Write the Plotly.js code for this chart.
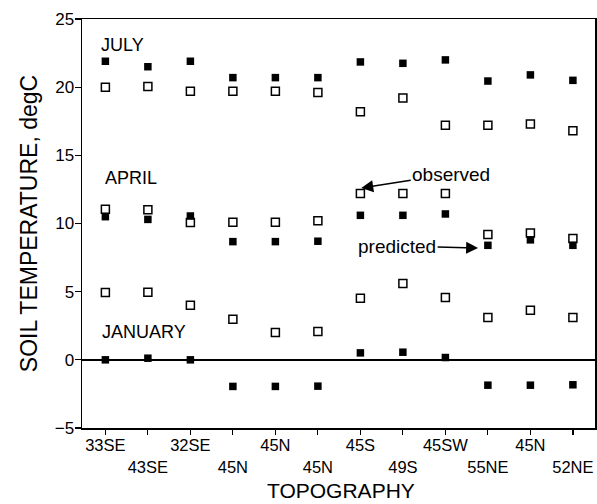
<!DOCTYPE html>
<html>
<head>
<meta charset="utf-8">
<script src="https://cdn.plot.ly/plotly-3.0.1.min.js"></script>
<style>html,body{margin:0;padding:0;background:#fff;}#chart{width:597px;height:504px;}</style>
</head>
<body>
<div id="chart"></div>
<script>
const categories = ["33SE","43SE","32SE","45N","45N","45N","45S","49S","45SW","55NE","45N","52NE"];
const julyPredicted  = [21.9, 21.5, 21.9, 20.7, 20.7, 20.7, 21.85, 21.75, 22.0, 20.45, 20.9, 20.5];
const julyObserved   = [20.0, 20.05, 19.7, 19.7, 19.7, 19.6, 18.2, 19.2, 17.2, 17.2, 17.3, 16.8];
const aprilPredicted = [10.5, 10.3, 10.55, 8.67, 8.67, 8.7, 10.6, 10.6, 10.7, 8.4, 8.8, 8.4];
const aprilObserved  = [11.05, 11.0, 10.07, 10.1, 10.1, 10.2, 12.2, 12.2, 12.2, 9.2, 9.3, 8.9];
const janPredicted   = [0.0, 0.12, 0.0, -1.95, -1.95, -1.93, 0.51, 0.56, 0.17, -1.86, -1.86, -1.83];
const janObserved    = [4.93, 4.96, 4.0, 2.98, 2.0, 2.07, 4.52, 5.6, 4.57, 3.1, 3.64, 3.1];
const yTicks = [-5, 0, 5, 10, 15, 20, 25];
const xTitle = "TOPOGRAPHY";
const yTitle = "SOIL TEMPERATURE, degC";

const xIdx = categories.map((_, i) => i);
const tickText = categories.map((c, i) => i % 2 === 0 ? c : "\u00a0<br>" + c);

const FONT = "Liberation Sans, Arial, sans-serif";
const filled = {symbol: "square", size: 7.5, color: "#000"};
const open = {symbol: "square-open", size: 8, color: "#000", line: {width: 1.5, color: "#000"}};

function tr(y, m) { return {x: xIdx, y: y, type: "scatter", mode: "markers", marker: m, hoverinfo: "skip", showlegend: false}; }

const data = [
  tr(julyPredicted, filled), tr(julyObserved, open),
  tr(aprilPredicted, filled), tr(aprilObserved, open),
  tr(janPredicted, filled), tr(janObserved, open)
];

const layout = {
  width: 597, height: 504,
  margin: {l: 82, r: 2, t: 19, b: 76},
  paper_bgcolor: "#fff", plot_bgcolor: "#fff",
  font: {family: FONT, color: "#000", size: 18},
  showlegend: false,
  xaxis: {
    range: [-0.55, 11.52], tickmode: "array", tickvals: xIdx, ticktext: tickText, tickangle: 0,
    ticks: "outside", ticklen: 5, tickwidth: 1.2, tickcolor: "#000", ticklabelstandoff: -3,
    showline: true, linecolor: "#000", linewidth: 1.5, mirror: true,
    showgrid: false, zeroline: false,
    tickfont: {family: FONT, size: 16.5, color: "#000"}
  },
  yaxis: {
    range: [-5, 25], tickmode: "array", tickvals: yTicks,
    ticks: "outside", ticklen: 6, tickwidth: 1.2, tickcolor: "#000", ticklabelstandoff: -3,
    showline: true, linecolor: "#000", linewidth: 1.5, mirror: true,
    showgrid: false, zeroline: true, zerolinecolor: "#000", zerolinewidth: 1.5,
    tickfont: {family: FONT, size: 17, color: "#000"},
    title: {text: yTitle, font: {family: FONT, size: 23, color: "#000"}, standoff: 10}
  },
  annotations: [
    {x: 0.505, y: -0.154, xref: "paper", yref: "paper", text: xTitle, showarrow: false, xanchor: "center", yanchor: "middle", font: {size: 21}},
    {x: -0.14, y: 23.1, xref: "x", yref: "y", text: "JULY", showarrow: false, xanchor: "left", yanchor: "middle", font: {size: 18}},
    {x: -0.05, y: 13.35, xref: "x", yref: "y", text: "APRIL", showarrow: false, xanchor: "left", yanchor: "middle", font: {size: 18}},
    {x: -0.12, y: 2.05, xref: "x", yref: "y", text: "JANUARY", showarrow: false, xanchor: "left", yanchor: "middle", font: {size: 18}},
    {x: 6.02, y: 12.6, xref: "x", yref: "y", text: "observed", showarrow: true, ax: 90, ay: -14,
     arrowhead: 2, arrowsize: 1.6, arrowwidth: 1.5, arrowcolor: "#000", font: {size: 19}},
    {x: 8.77, y: 8.2, xref: "x", yref: "y", text: "predicted", showarrow: true, ax: -81, ay: -2,
     arrowhead: 2, arrowsize: 1.6, arrowwidth: 1.5, arrowcolor: "#000", font: {size: 19}}
  ]
};

Plotly.newPlot("chart", data, layout, {staticPlot: true, displayModeBar: false});
</script>
</body>
</html>
